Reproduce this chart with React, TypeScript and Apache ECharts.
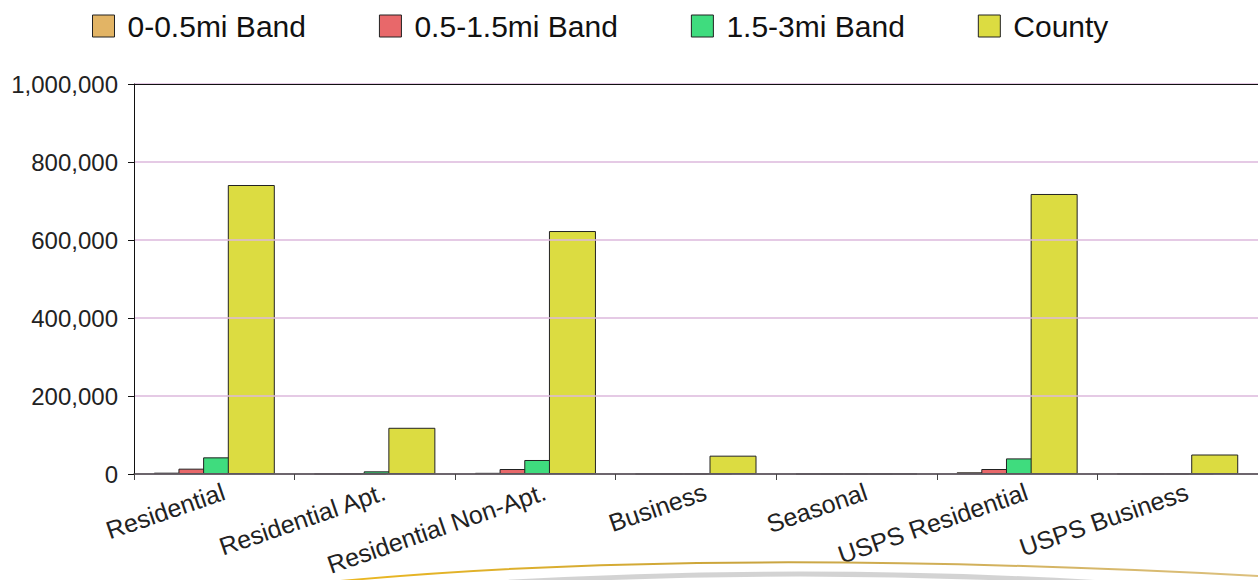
import React, { useEffect, useRef } from "react";
import * as echarts from "echarts";

const categories = [
  "Residential",
  "Residential Apt.",
  "Residential Non-Apt.",
  "Business",
  "Seasonal",
  "USPS Residential",
  "USPS Business",
];
const band0to05 = [3400, 300, 3000, 200, 0, 4300, 200];
const band05to15 = [13700, 800, 12800, 400, 0, 12800, 400];
const band15to3 = [42700, 6800, 35900, 1000, 0, 40000, 1000];
const county = [741000, 118500, 623000, 47000, 300, 718000, 50000];
const seriesNames = ["0-0.5mi Band", "0.5-1.5mi Band", "1.5-3mi Band", "County"];
const seriesColors = ["#E2B465", "#E8686A", "#3FDC7E", "#DCDC41"];
const yMax = 1000000;
const yInterval = 200000;

export default function App() {
  const ref = useRef<HTMLDivElement>(null);
  useEffect(() => {
    if (!ref.current) return;
    const chart = echarts.init(ref.current, undefined, { renderer: "svg" });
    const font = "'Liberation Sans', Arial, sans-serif";
    const data = [band0to05, band05to15, band15to3, county];
    const gold = new echarts.graphic.LinearGradient(0, 0, 1, 0, [
      { offset: 0, color: "rgba(235,180,20,0.95)" },
      { offset: 0.45, color: "#C9A43E" },
      { offset: 1, color: "rgba(205,165,70,0.7)" },
    ]);
    chart.setOption({
      animation: false,
      backgroundColor: "#fff",
      textStyle: { fontFamily: font },
      legend: {
        left: 92,
        top: 11,
        padding: 0,
        itemWidth: 22,
        itemHeight: 22,
        itemGap: 73,
        icon: "rect",
        textStyle: { fontSize: 30, color: "#111", fontFamily: font, padding: [0, 0, 0, 8] },
        itemStyle: { borderColor: "#222", borderWidth: 1 },
        data: seriesNames,
      },
      grid: {
        left: 134,
        top: 84,
        right: -11,
        bottom: 106,
        show: true,
        borderColor: "#111",
        borderWidth: 0,
        backgroundColor: "#fff",
      },
      xAxis: [
        {
          type: "category",
          data: categories,
          axisLine: { lineStyle: { color: "#444", width: 1.5 } },
          axisTick: { show: true, length: 6, lineStyle: { color: "#444" } },
          axisLabel: {
            rotate: 19,
            fontSize: 25,
            color: "#222",
            margin: 20,
            interval: 0,
            fontFamily: font,
            padding: [0, -10, 0, 0],
          },
          splitLine: { show: false },
          z: 5,
        },
        {
          type: "category",
          data: categories,
          position: "top",
          axisLine: { show: true, lineStyle: { color: "#111", width: 1 } },
          axisTick: { show: false },
          axisLabel: { show: false },
          splitLine: { show: false },
          z: 5,
        },
      ],
      yAxis: {
        type: "value",
        min: 0,
        max: yMax,
        interval: yInterval,
        axisLine: { show: true, lineStyle: { color: "#111" } },
        axisTick: { show: true, length: 6, lineStyle: { color: "#111" } },
        axisLabel: {
          fontSize: 24,
          color: "#222",
          margin: 16,
          fontFamily: font,
          formatter: (v: number) => v.toLocaleString("en-US"),
        },
        splitLine: { show: true, lineStyle: { color: "#DDB9DD", width: 1.5 } },
        z: 5,
      },
      series: seriesNames.map((name, i) => ({
        name,
        type: "bar",
        data: data[i],
        barWidth: 47,
        barGap: "-47.5%",
        itemStyle: { color: seriesColors[i], borderColor: "#222", borderWidth: 1 },
      })),
      graphic: [
        {
          type: "bezierCurve",
          silent: true,
          z: 10,
          shape: { x1: 450, y1: 586, x2: 1150, y2: 586, cpx1: 800, cpy1: 562 },
          style: { stroke: "rgba(175,175,175,0.55)", lineWidth: 5, fill: "none" },
        },
        {
          type: "bezierCurve",
          silent: true,
          z: 11,
          shape: { x1: 330, y1: 582, x2: 1258, y2: 576, cpx1: 698, cpy1: 546 },
          style: { stroke: gold, lineWidth: 2, fill: "none" },
        },
      ],
    });
    return () => chart.dispose();
  }, []);
  return (
    <div
      ref={ref}
      style={{ position: "fixed", left: 0, top: 0, width: 1258, height: 580 }}
    />
  );
}
